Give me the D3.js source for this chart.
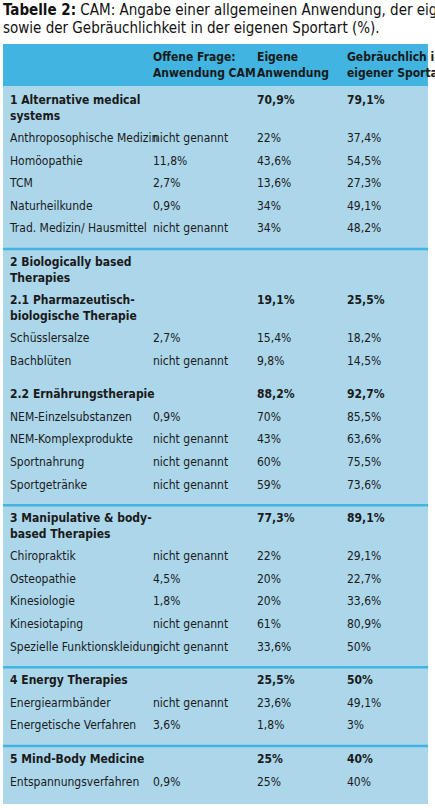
<!DOCTYPE html><html><head><meta charset="utf-8">
<script src="https://cdn.jsdelivr.net/npm/d3@7"></script>
<style>body{margin:0;background:#fff}</style></head><body>
<svg id="c" width="435" height="810"></svg>
<script>
const headers=["","Offene Frage:\nAnwendung CAM","Eigene\nAnwendung","Gebräuchlich in\neigener Sportart"];
const labels=["1 Alternative medical\nsystems","Anthroposophische Medizin","Homöopathie","TCM","Naturheilkunde","Trad. Medizin/ Hausmittel",
"2 Biologically based\nTherapies","2.1 Pharmazeutisch-\nbiologische Therapie","Schüsslersalze","Bachblüten",
"2.2 Ernährungstherapie","NEM-Einzelsubstanzen","NEM-Komplexprodukte","Sportnahrung","Sportgetränke",
"3 Manipulative & body-\nbased Therapies","Chiropraktik","Osteopathie","Kinesiologie","Kinesiotaping","Spezielle Funktionskleidung",
"4 Energy Therapies","Energiearmbänder","Energetische Verfahren","5 Mind-Body Medicine","Entspannungsverfahren"];
const offene=["","nicht genannt","11,8%","2,7%","0,9%","nicht genannt","","","2,7%","nicht genannt","","0,9%","nicht genannt","nicht genannt","nicht genannt","","nicht genannt","4,5%","1,8%","nicht genannt","nicht genannt","","nicht genannt","3,6%","","0,9%"];
const eigene=["70,9%","22%","43,6%","13,6%","34%","34%","","19,1%","15,4%","9,8%","88,2%","70%","43%","60%","59%","77,3%","22%","20%","20%","61%","33,6%","25,5%","23,6%","1,8%","25%","25%"];
const sportart=["79,1%","37,4%","54,5%","27,3%","49,1%","48,2%","","25,5%","18,2%","14,5%","92,7%","85,5%","63,6%","75,5%","73,6%","89,1%","29,1%","22,7%","33,6%","80,9%","50%","50%","49,1%","3%","40%","40%"];
const boldRows=[0,6,7,10,15,21,24];
const gapBefore=[6,10,15,21,24];
const sepBefore=[6,15,21,24];
const F='"Liberation Sans Narrow","DejaVu Sans Condensed",sans-serif';
const svg=d3.select("#c");
const t=svg.append("text").attr("x",3).attr("y",15).attr("font-family",F).attr("font-size",15).attr("fill","#111");
t.append("tspan").attr("font-weight","bold").text("Tabelle 2:");
t.append("tspan").text(" CAM: Angabe einer allgemeinen Anwendung, der eigenen Nutzung");
svg.append("text").attr("x",3).attr("y",33).attr("font-family",F).attr("font-size",15).attr("fill","#111").text("sowie der Gebräuchlichkeit in der eigenen Sportart (%).");
const L=3,R=428,tTop=44,hb=86,bottom=804;
svg.append("rect").attr("x",L).attr("y",hb).attr("width",R-L).attr("height",bottom-hb).attr("fill","#acd6ea");
svg.append("rect").attr("x",L).attr("y",tTop).attr("width",R-L).attr("height",hb-tTop).attr("fill","#41b4e1");
const cols=[10,153,257,347];
headers.forEach((h,i)=>h.split("\n").forEach((s,j)=>svg.append("text").attr("x",cols[i]).attr("y",61+j*16).attr("font-family",F).attr("font-size",12).attr("font-weight","bold").attr("fill","#1a1a1a").text(s)));
let y=104;const ys=[];
labels.forEach((l,i)=>{if(gapBefore.includes(i))y+=11;ys.push(y);
 if(sepBefore.includes(i))svg.append("line").attr("x1",L).attr("x2",R).attr("y1",y-17).attr("y2",y-17).attr("stroke","#41b4e1").attr("stroke-width",2.5);
 y+=l.includes("\n")?38:22.6;});
labels.forEach((l,i)=>{const b=boldRows.includes(i);
 [l,offene[i],eigene[i],sportart[i]].forEach((v,c)=>v.split("\n").forEach((s,j)=>svg.append("text").attr("x",cols[c]).attr("y",ys[i]+j*16).attr("font-family",F).attr("font-size",12).attr("font-weight",b?"bold":"normal").attr("fill","#1a1a1a").text(s)));});
</script></body></html>
